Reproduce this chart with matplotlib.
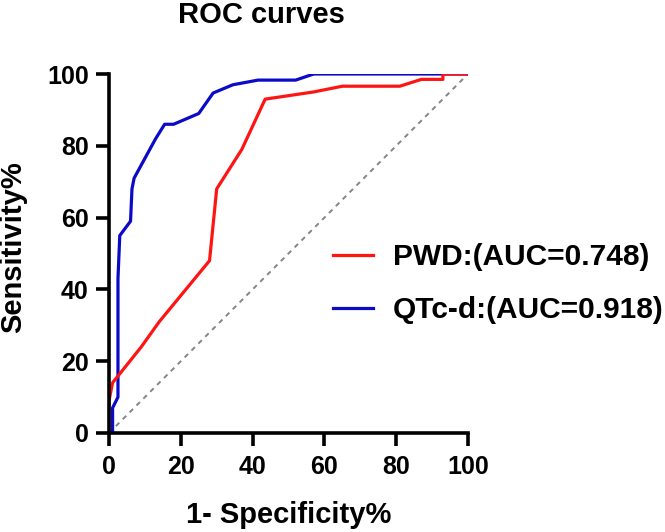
import matplotlib
matplotlib.use("Agg")
import matplotlib.pyplot as plt

plt.rcParams['font.family'] = ['Liberation Sans', 'DejaVu Sans']
plt.rcParams['font.weight'] = 'bold'

# ROC curve points (1-specificity %, sensitivity %)
pwd_x = [0, 0, 1, 3, 9, 14, 28, 30, 37, 43.5, 57, 65, 81, 87, 93, 93, 100]
pwd_y = [0, 9, 14, 16.5, 24, 31, 48, 68, 79, 93, 95, 96.6, 96.6, 98.5, 98.5, 100, 100]

qtc_x = [0, 1, 1, 2.5, 2.5, 3, 6, 6.4, 7, 13, 15.5, 18, 25, 29, 34.5, 41.5, 52, 57, 100]
qtc_y = [0, 0, 7, 10, 43, 55, 59, 68, 71, 82, 86, 86, 89, 94.7, 97, 98.3, 98.3, 100, 100]

labels = ['PWD:(AUC=0.748)', 'QTc-d:(AUC=0.918)']
ticks = [0, 20, 40, 60, 80, 100]

W, H = 665, 532
fig = plt.figure(figsize=(6.65, 5.32), dpi=100)
ax = fig.add_axes([109 / W, 1 - 433 / H, 359 / W, 359 / H])

ax.plot([0, 100], [0, 100], linestyle=(0, (2.5, 2.5)), color='#858585', lw=1.4)
# blue first so the red curve sits on top where they overlap
l_qtc, = ax.plot(qtc_x, qtc_y, color='#0a0ac8', lw=2.3, label=labels[1])
l_pwd, = ax.plot(pwd_x, pwd_y, color='#ff1414', lw=2.3, label=labels[0])

ax.set_xlim(0, 100)
ax.set_ylim(0, 100)
ax.set_xticks(ticks)
ax.set_yticks(ticks)
for s in ['top', 'right']:
    ax.spines[s].set_visible(False)
for s in ['left', 'bottom']:
    ax.spines[s].set_linewidth(2.6)
    ax.spines[s].set_capstyle('projecting')
ax.tick_params(width=2.6, length=9.5, labelsize=18)
ax.tick_params(axis='y', pad=5)
ax.tick_params(axis='x', pad=6)
for lab in ax.get_xticklabels() + ax.get_yticklabels():
    lab.set_fontweight('bold')

ax.set_xlabel('1- Specificity%', fontsize=21, fontweight='bold', va='top')
ax.xaxis.set_label_coords(0.5, -0.19)
ax.set_ylabel('Sensitivity%', fontsize=21, fontweight='bold', va='bottom')
ax.yaxis.set_label_coords(-0.228, 0.518)

fig.text(261 / W, 1 - 23 / H, 'ROC curves', fontsize=21, fontweight='bold',
         ha='center', va='baseline')

leg = ax.legend([l_pwd, l_qtc], labels, loc='upper left',
                bbox_to_anchor=(333 / W, 1 - 243 / H),
                bbox_transform=fig.transFigure, frameon=False,
                prop={'size': 21.5, 'weight': 'bold'}, handlelength=1.34,
                handletextpad=0.67, labelspacing=0.84, borderpad=0,
                borderaxespad=0)
for h in leg.get_lines():
    h.set_linewidth(2.3)

fig.savefig('out.png', dpi=100)
